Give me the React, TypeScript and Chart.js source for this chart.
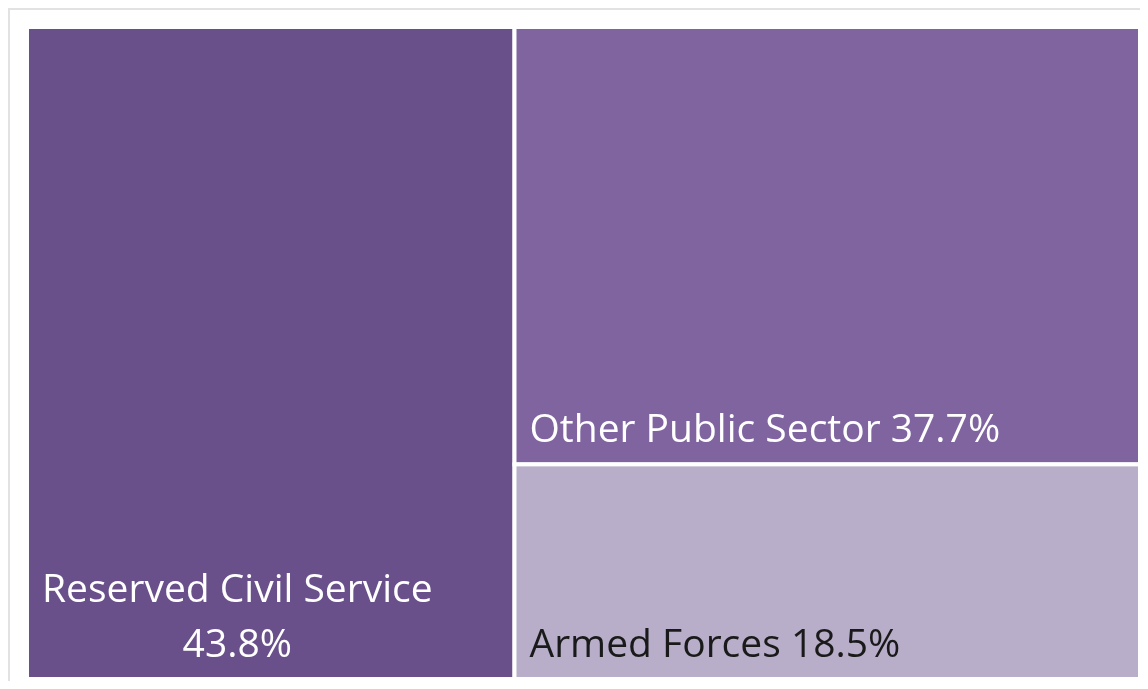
import React, { useEffect, useRef } from "react";
import { Chart, registerables } from "chart.js";

Chart.register(...registerables);

const categories = ["Reserved Civil Service", "Other Public Sector", "Armed Forces"];
const shares = [43.8, 37.7, 18.5];
const fillColors = ["#69508a", "#7f64a0", "#b8aec9"];
const textColors = ["#ffffff", "#ffffff", "#1a1a1a"];

const FONT = "39px 'Open Sans'";

const treemapPlugin = {
  id: "treemap",
  afterDatasetsDraw(chart: any) {
    const { ctx, scales } = chart;
    const xs = scales.x;
    const ys = scales.y;
    const total = shares.reduce((a, b) => a + b, 0);
    const split = (shares[0] / total) * 100;
    const rest = total - shares[0];
    const rects: { x0: number; x1: number; y0: number; y1: number }[] = [];
    rects.push({ x0: 0, x1: split, y0: 0, y1: 100 });
    let top = 100;
    for (let i = 1; i < shares.length; i++) {
      const h = (shares[i] / rest) * 100;
      rects.push({ x0: split, x1: 100, y0: top - h, y1: top });
      top -= h;
    }
    ctx.save();
    rects.forEach((r, i) => {
      const left = xs.getPixelForValue(r.x0);
      const right = xs.getPixelForValue(r.x1);
      const t = ys.getPixelForValue(r.y1);
      const b = ys.getPixelForValue(r.y0);
      ctx.fillStyle = fillColors[i];
      ctx.fillRect(left, t, right - left, b - t);
      ctx.strokeStyle = "#ffffff";
      ctx.lineWidth = 4;
      ctx.strokeRect(left, t, right - left, b - t);

      ctx.font = FONT;
      ctx.fillStyle = textColors[i];
      ctx.textBaseline = "alphabetic";
      const full = `${categories[i]} ${shares[i].toFixed(1)}%`;
      const avail = right - left - 30;
      let lines = [full];
      if (ctx.measureText(full).width > avail) {
        lines = [categories[i], `${shares[i].toFixed(1)}%`];
      }
      const blockW = Math.max(...lines.map((l) => ctx.measureText(l).width));
      const cx = left + 15 + blockW / 2;
      const lineH = 55;
      const lastBase = b - 22;
      ctx.textAlign = "center";
      lines.forEach((l, k) => {
        ctx.fillText(l, cx, lastBase - (lines.length - 1 - k) * lineH);
      });
    });
    ctx.restore();
  },
};

export default function App() {
  const ref = useRef<HTMLCanvasElement>(null);
  useEffect(() => {
    if (!ref.current) return;
    const chart = new Chart(ref.current, {
      type: "scatter",
      data: { datasets: [] },
      options: {
        animation: false,
        responsive: false,
        layout: { padding: { left: 17, top: 17, right: 0, bottom: 2 } },
        scales: {
          x: { type: "linear", min: 0, max: 100, display: false },
          y: { type: "linear", min: 0, max: 100, display: false },
        },
        plugins: { legend: { display: false }, tooltip: { enabled: false } },
      },
      plugins: [treemapPlugin],
    });
    return () => chart.destroy();
  }, []);
  return (
    <div
      style={{
        width: 1132,
        height: 673,
        boxSizing: "border-box",
        borderTop: "2px solid #e2e2e2",
        borderLeft: "2px solid #e2e2e2",
        background: "#ffffff",
      }}
    >
      <canvas ref={ref} width={1130} height={671} style={{ display: "block" }} />
    </div>
  );
}
